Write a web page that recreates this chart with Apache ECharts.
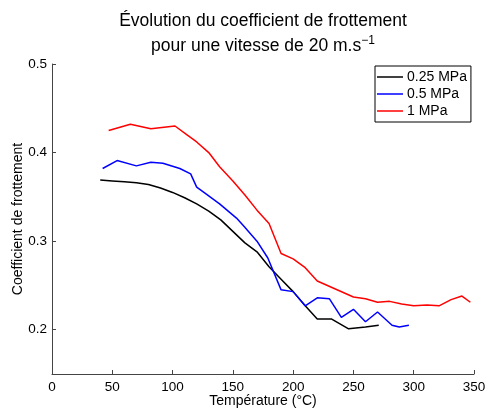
<!DOCTYPE html>
<html><head><meta charset="utf-8">
<script src="https://cdn.jsdelivr.net/npm/echarts@6/dist/echarts.min.js"></script>
<style>html,body{margin:0;padding:0;background:#fff}#c{width:488px;height:409px}</style>
</head><body><div id="c"></div>
<script>
const seriesNames = ['0.25 MPa', '0.5 MPa', '1 MPa'];
const xTicks = [0, 50, 100, 150, 200, 250, 300, 350];
const yTicks = [0.2, 0.3, 0.4, 0.5];
const black = [[40,0.369],[50,0.368],[60,0.367],[70,0.366],[80,0.364],[90,0.360],[100,0.355],[110,0.349],[120,0.342],[130,0.334],[140,0.324],[150,0.311],[160,0.298],[170,0.288],[180,0.271],[190,0.257],[200,0.243],[210,0.227],[220,0.212],[232,0.212],[246,0.201],[260,0.203],[271,0.205]];
const blue = [[42,0.382],[54,0.391],[70,0.385],[82,0.389],[92,0.388],[106,0.382],[115,0.376],[120,0.361],[128,0.353],[139,0.342],[153,0.326],[159,0.317],[170,0.300],[179,0.281],[190,0.245],[200,0.243],[210,0.227],[220,0.236],[230,0.235],[240,0.214],[250,0.223],[260,0.209],[270,0.220],[282,0.205],[288,0.203],[296,0.205]];
const red = [[47,0.425],[65,0.432],[82,0.427],[102,0.430],[112,0.420],[120,0.412],[130,0.400],[139,0.384],[150,0.368],[160,0.352],[170,0.335],[180,0.320],[190,0.286],[200,0.280],[210,0.270],[220,0.255],[235,0.246],[250,0.237],[260,0.235],[270,0.231],[280,0.232],[290,0.229],[300,0.227],[311,0.228],[321,0.227],[331,0.234],[340,0.238],[347,0.231]];
const colors = ['#000000', '#0000ff', '#ff0000'];
const font = 'Liberation Sans, Arial, sans-serif';
const chart = echarts.init(document.getElementById('c'));
chart.setOption({
  animation: false,
  backgroundColor: '#fff',
  title: {
    text: '{a|Évolution du coefficient de frottement}\n{a|pour une vitesse de 20 m.s}{s|−1}',
    left: 258, top: 4, textAlign: 'center',
    textStyle: {
      fontFamily: font, fontWeight: 'normal', fontSize: 17.5, color: '#000', lineHeight: 25,
      rich: {
        a: {fontFamily: font, fontSize: 17.5, color: '#000', lineHeight: 25},
        s: {fontFamily: font, fontSize: 12, color: '#000', lineHeight: 25, padding: [0, 0, 12, 0]}
      }
    }
  },
  legend: {
    orient: 'vertical', left: 375, top: 66,
    data: seriesNames,
    icon: 'rect', itemWidth: 26, itemHeight: 1.5, itemGap: 3,
    borderColor: '#000', borderWidth: 1, borderRadius: 0,
    padding: [4, 4, 4, 2], backgroundColor: '#fff',
    textStyle: {fontFamily: font, fontSize: 14, color: '#000', lineHeight: 14, padding: [0, 0, 0, -1]}
  },
  grid: {left: 52, right: 14, top: 64, bottom: 35, containLabel: false, outerBoundsMode: 'none'},
  xAxis: {
    type: 'value', min: 0, max: 350, interval: 50,
    name: 'Température (°C)', nameLocation: 'middle', nameGap: 20, nameMoveOverlap: false,
    nameTextStyle: {fontFamily: font, fontSize: 14, color: '#000'},
    axisLine: {show: true, lineStyle: {color: '#444', width: 1}},
    axisTick: {show: true, inside: true, length: 4, lineStyle: {color: '#444'}, customValues: xTicks},
    axisLabel: {fontFamily: font, fontSize: 13.5, color: '#000', margin: 6, customValues: xTicks},
    splitLine: {show: false}
  },
  yAxis: {
    type: 'value', min: 0.15, max: 0.5,
    name: 'Coefficient de frottement', nameLocation: 'middle', nameGap: 27, nameMoveOverlap: false,
    nameTextStyle: {fontFamily: font, fontSize: 14, color: '#000'},
    axisLine: {show: true, lineStyle: {color: '#444', width: 1}},
    axisTick: {show: true, inside: true, length: 4, lineStyle: {color: '#444'}, customValues: yTicks},
    axisLabel: {fontFamily: font, fontSize: 13.5, color: '#000', margin: 5, customValues: yTicks, formatter: v => v.toFixed(1)},
    splitLine: {show: false}
  },
  series: [
    {name: seriesNames[0], type: 'line', data: black, showSymbol: false, lineStyle: {width: 1.5, color: colors[0]}, itemStyle: {color: colors[0]}},
    {name: seriesNames[1], type: 'line', data: blue, showSymbol: false, lineStyle: {width: 1.5, color: colors[1]}, itemStyle: {color: colors[1]}},
    {name: seriesNames[2], type: 'line', data: red, showSymbol: false, lineStyle: {width: 1.5, color: colors[2]}, itemStyle: {color: colors[2]}}
  ]
});
</script></body></html>
